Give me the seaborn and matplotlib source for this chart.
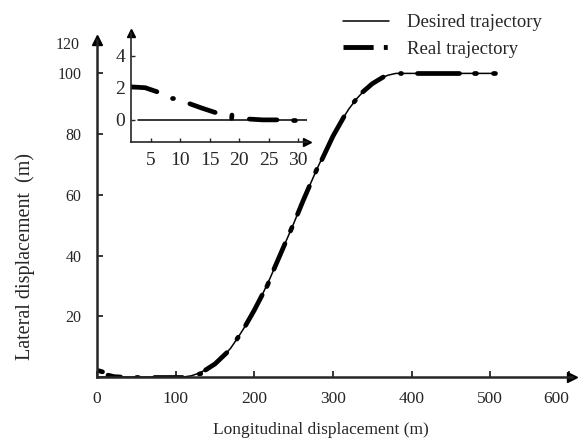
import numpy as np
import pandas as pd
import matplotlib
matplotlib.use('Agg')
import matplotlib.pyplot as plt
import seaborn as sns
from matplotlib.lines import Line2D

# ---------------- data ----------------
desired_x = [0, 110, 120, 130, 140, 150, 160, 170, 180, 190, 200, 210, 220, 230,
             240, 250, 260, 270, 280, 290, 300, 310, 320, 330, 340, 350, 360,
             370, 380, 505]
desired_y = [0, 0, 0.4, 1.3, 2.6, 4.3, 6.6, 9.5, 13.3, 17.4, 22, 27, 32.5, 38.5,
             44.5, 50.5, 56.8, 62.8, 68.7, 74.2, 79.3, 84.0, 88.2, 91.6, 94.4,
             96.6, 98.3, 99.4, 100, 100]

real_x = [0, 3, 7,
          14, 22, 30,
          50, 52,
          72, 90, 108,
          130, 132,
          138, 150, 165,
          178, 179.5,
          189, 200, 210,
          216, 218,
          225, 232, 239,
          246, 248,
          255, 262, 270,
          278, 279.5,
          286, 300, 314,
          327, 328.5,
          338, 350, 364,
          385, 386.5,
          407, 460,
          480, 481.5,
          504, 505.5]
real_y = [2.1, 2.0, 1.7,
          0.6, 0.1, 0.0,
          0.0, 0.0,
          0.0, 0.0, 0.0,
          1.0, 1.1,
          2.3, 4.3, 8.0,
          12.5, 13.1,
          17.0, 22.0, 27.0,
          29.8, 31.0,
          35.5, 39.7, 43.9,
          48.1, 49.3,
          53.6, 58.0, 62.8,
          67.5, 68.4,
          71.6, 79.3, 85.7,
          90.6, 91.1,
          93.9, 96.6, 98.8,
          100, 100,
          100, 100,
          100, 100,
          100, 100]
real_seg = [1, 1, 1, 2, 2, 2, 3, 3, 4, 4, 4, 5, 5, 6, 6, 6, 7, 7, 8, 8, 8,
            9, 9, 10, 10, 10, 11, 11, 12, 12, 12, 13, 13, 14, 14, 14, 15, 15,
            16, 16, 16, 17, 17, 18, 18, 19, 19, 20, 20]

inset_desired_x = [2.8, 31.6]
inset_desired_y = [0, 0]
inset_real_x = [1.6, 4.0, 6.0,
                8.6, 8.8,
                11.6, 13.5, 15.9,
                18.7, 18.75,
                21.7, 24.0, 26.4,
                29.2, 29.4]
inset_real_y = [2.05, 2.0, 1.75,
                1.35, 1.35,
                1.0, 0.75, 0.46,
                0.1, 0.3,
                0.05, 0.0, 0.0,
                0.0, 0.0]
inset_real_seg = [1, 1, 1, 2, 2, 3, 3, 3, 4, 4, 5, 5, 5, 6, 6]

x_ticks = [0, 100, 200, 300, 400, 500, 600]
y_ticks = [20, 40, 60, 80, 100]
inset_x_ticks = [5, 10, 15, 20, 25, 30]
inset_y_ticks = [0, 2, 4]

# ---------------- style ----------------
sns.set_style('ticks')
plt.rcParams['font.family'] = ['Liberation Serif', 'DejaVu Serif']

W, H = 580, 441
fig = plt.figure(figsize=(W / 100, H / 100), dpi=100)

# ---------------- main axes ----------------
ax = fig.add_axes([97 / W, 1 - 377 / H, (572 - 97) / W, (377 - 40) / H])
sns.lineplot(x=desired_x, y=desired_y, ax=ax, color='k', lw=1.1,
             sort=False, estimator=None)
df_real = pd.DataFrame({'x': real_x, 'y': real_y, 'seg': real_seg})
sns.lineplot(data=df_real, x='x', y='y', units='seg', estimator=None,
             sort=False, color='k', lw=3.4, solid_capstyle='round', ax=ax)

ax.set_xlim(0, 604)
ax.set_ylim(0, 111)
ax.set_xticks(x_ticks)
ax.set_yticks(y_ticks)
ax.set_xlabel('')
ax.set_ylabel('')
for s in ['top', 'right']:
    ax.spines[s].set_visible(False)
for s in ['left', 'bottom']:
    ax.spines[s].set_linewidth(1.8)
ax.tick_params(axis='x', direction='in', length=4, width=1.3, labelsize=12.5, pad=10)
ax.tick_params(axis='y', direction='in', length=4, width=1.3, labelsize=11.5, pad=11)
xlabels = ax.get_xticklabels()
xlabels[-1].set_horizontalalignment('right')
ax.plot([1], [0], marker='>', color='k', markersize=7, transform=ax.transAxes, clip_on=False)
ax.plot([0], [1], marker='^', color='k', markersize=7, transform=ax.transAxes, clip_on=False)
ax.text(-22, 109.3, '120', ha='right', va='center', fontsize=11.5)

fig.text(321 / W, 1 - 430 / H, 'Longitudinal displacement (m)', ha='center',
         va='center', fontsize=12.5)
fig.text(25 / W, 1 - 257 / H, 'Lateral displacement  (m)', ha='center',
         va='center', rotation=90, fontsize=14.5)

# ---------------- inset ----------------
axi = fig.add_axes([131 / W, 1 - 142 / H, (307 - 131) / W, (142 - 33) / H])
axi.set_facecolor('none')
sns.lineplot(x=inset_desired_x, y=inset_desired_y, ax=axi, color='k', lw=1.1,
             sort=False, estimator=None)
df_in = pd.DataFrame({'x': inset_real_x, 'y': inset_real_y, 'seg': inset_real_seg})
sns.lineplot(data=df_in, x='x', y='y', units='seg', estimator=None, sort=False,
             color='k', lw=3.4, solid_capstyle='round', ax=axi)
axi.set_xlim(1.6, 31.5)
axi.set_ylim(-1.375, 5.4)
axi.set_xticks(inset_x_ticks)
axi.set_yticks(inset_y_ticks)
axi.set_xlabel('')
axi.set_ylabel('')
for s in ['top', 'right']:
    axi.spines[s].set_visible(False)
for s in ['left', 'bottom']:
    axi.spines[s].set_linewidth(1.2)
axi.tick_params(axis='x', direction='in', length=3, width=1, labelsize=14, pad=7)
axi.tick_params(axis='y', direction='in', length=3, width=1, labelsize=14, pad=4)
axi.plot([1], [0], marker='>', color='k', markersize=6, transform=axi.transAxes, clip_on=False)
axi.plot([0], [1], marker='^', color='k', markersize=6, transform=axi.transAxes, clip_on=False)

# ---------------- legend ----------------
h_des = Line2D([], [], color='k', lw=1.1)
h_real = Line2D([], [], color='k', lw=3.5, dashes=(6.2, 2.1, 0.8, 5))
fig.legend([h_des, h_real], ['Desired trajectory', 'Real trajectory'],
           loc='upper left', bbox_to_anchor=(343 / W, 1 - 14 / H),
           frameon=False, fontsize=13.5, handlelength=2.45, handletextpad=0.95,
           labelspacing=0.5, borderpad=0, borderaxespad=0)

fig.savefig('out.png', dpi=100)
